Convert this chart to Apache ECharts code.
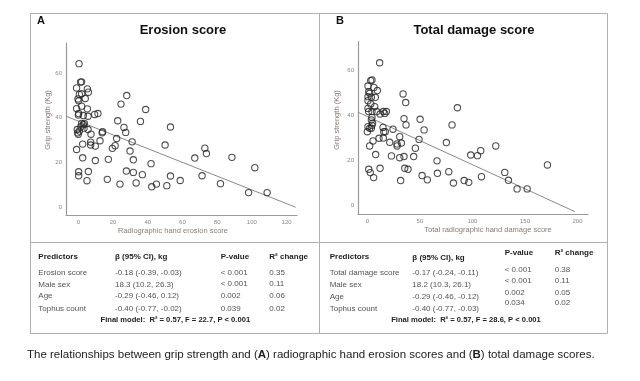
<!DOCTYPE html>
<html><head><meta charset="utf-8">
<script src="https://cdn.jsdelivr.net/npm/echarts@6/dist/echarts.min.js"></script>
<style>html,body{margin:0;padding:0;background:#fff}#c{width:640px;height:381px}</style>
</head><body><div id="c"></div>
<script>
// ---- Data ----
const erosionX = [0.4,1.3,1.9,-1.0,5.2,5.8,0.6,1.9,-0.2,4.0,0.2,1.9,5.2,-1.0,0.2,2.9,5.6,9.4,11.3,0.0,1.9,2.9,3.5,1.5,3.3,-0.6,0.6,-0.4,0.0,5.6,7.3,-1.0,2.5,7.1,7.1,9.8,2.5,9.8,0.2,0.2,5.8,5.0,13.7,12.5,14.0,
  16.7,17.3,22.7,22.1,21.2,19.6,24.6,24.0,27.9,26.3,27.3,27.7,31.0,29.8,31.7,31.7,33.3,35.8,36.9,38.8,41.9,42.3,45.0,50.0,51.0,53.1,53.1,58.7,67.1,71.3,72.9,73.8,81.9,88.5,98.1,101.7,108.8];
const erosionY = [64.1,55.9,56.0,53.3,52.9,51.4,50.4,50.7,48.4,48.6,47.6,45.2,44.0,44.1,41.9,41.0,40.7,41.5,41.9,41.2,37.5,37.0,37.5,36.0,35.4,34.8,34.1,33.3,32.7,34.8,32.7,25.9,28.3,29.2,27.9,27.4,22.2,21.0,16.0,14.2,16.1,12.0,33.3,29.8,33.8,
  12.6,21.5,38.7,30.8,27.6,26.4,46.1,10.5,49.9,35.7,33.5,16.3,29.3,25.2,21.3,15.7,11.0,38.4,14.7,43.7,19.6,9.3,10.5,27.9,9.8,35.9,14.1,12.1,22.1,14.2,26.5,24.1,10.7,22.4,6.7,17.8,6.7];
const erosionFitX = [-7.1, 125.2];
const erosionFitY = [40.7, 0.2];

const damageX = [11.7,3.2,4.4,0.6,6.3,9.5,1.3,2.2,0.6,3.8,7.6,0.6,3.2,7.0,0.6,1.3,4.4,8.9,12.1,15.2,18.1,16.5,4.4,3.8,0.6,2.2,3.8,0.0,14.9,15.6,17.1,24.4,5.4,2.2,11.1,15.2,7.9,1.3,2.8,6.0,12.1,21.3,22.9,28.3,28.3,32.4,30.8,30.8,34.9,31.7,34.0,36.5,34.9,36.8,35.6,38.7,44.1,45.7,49.2,50.2,54.0,52.1,57.1,66.3,66.7,75.2,77.5,80.6,81.9,85.7,92.1,96.5,98.4,104.8,107.9,108.6,122.2,130.8,134.3,142.5,152.1,171.4,5.0,4.4];
const damageY = [63.2,55.3,55.6,52.9,52.3,50.9,50.4,49.7,48.2,47.9,47.9,46.4,45.0,43.8,43.0,41.6,41.6,41.6,40.5,41.6,41.6,40.8,39.0,37.9,34.9,34.2,34.2,32.7,34.6,32.7,32.7,33.8,28.6,26.4,29.8,29.9,22.6,16.1,14.6,12.4,16.5,28.0,22.0,27.3,26.4,27.7,30.5,21.2,21.7,11.1,49.4,45.6,38.5,35.7,16.5,16.1,21.7,25.4,29.3,38.2,33.5,13.3,11.4,19.8,14.3,27.9,15.0,35.7,10.0,43.3,11.1,10.3,22.4,22.1,24.3,12.8,26.4,14.7,11.2,7.4,7.4,18.0,36.5,35.5];
const damageFitX = [-8.9, 197.5];
const damageFitY = [41.3, -2.65];

const erosionTicksX = [0,20,40,60,80,100,120];
const damageTicksX = [0,50,100,150,200];
const gripTicksY = [0,20,40,60];

const tableHeaders = ['Predictors', 'β (95% CI), kg', 'P-value', 'R² change'];
const predictorsA = ['Erosion score', 'Male sex', 'Age', 'Tophus count'];
const betaA = ['-0.18 (-0.39, -0.03)', '18.3 (10.2, 26.3)', '-0.29 (-0.46, 0.12)', '-0.40 (-0.77, -0.02)'];
const pA = ['< 0.001', '< 0.001', '0.002', '0.039'];
const r2A = ['0.35', '0.11', '0.06', '0.02'];
const finalA = 'Final model:  R² = 0.57, F = 22.7, P < 0.001';
const predictorsB = ['Total damage score', 'Male sex', 'Age', 'Tophus count'];
const betaB = ['-0.17 (-0.24, -0.11)', '18.2 (10.3, 26.1)', '-0.29 (-0.46, -0.12)', '-0.40 (-0.77, -0.03)'];
const pB = ['< 0.001', '< 0.001', '0.002', '0.034'];
const r2B = ['0.38', '0.11', '0.05', '0.02'];
const finalB = 'Final model:  R² = 0.57, F = 28.6, P < 0.001';

// ---- Build ----
const zip = (xs, ys) => xs.map((x, i) => [x, ys[i]]);
const FF = '"Liberation Sans", Arial, sans-serif';

function axisX(gi, min, max, ticks) {
  return { type: 'value', gridIndex: gi, min, max,
    axisLine: { show: true, onZero: false, lineStyle: { color: '#9a9a9a', width: 1.2 } },
    axisTick: { show: false }, splitLine: { show: false },
    axisLabel: { customValues: ticks, color: '#888', fontSize: 6, fontFamily: FF, margin: 4 } };
}
function axisY(gi, min, max, ticks) {
  return { type: 'value', gridIndex: gi, min, max,
    axisLine: { show: true, onZero: false, lineStyle: { color: '#9a9a9a', width: 1.2 } },
    axisTick: { show: false }, splitLine: { show: false },
    axisLabel: { customValues: ticks, color: '#888', fontSize: 6, fontFamily: FF, margin: 4 } };
}
function scatter(i, data) {
  return { type: 'scatter', xAxisIndex: i, yAxisIndex: i, data, symbol: 'circle', symbolSize: 6.3,
    itemStyle: { color: 'rgba(0,0,0,0)', borderColor: '#222', borderWidth: 1.1 }, silent: true, z: 3 };
}
function fit(i, data) {
  return { type: 'line', xAxisIndex: i, yAxisIndex: i, data, symbol: 'none',
    lineStyle: { color: '#8a8a8a', width: 1 }, silent: true, z: 2 };
}
function txt(x, y, text, o) {
  o = o || {};
  return { type: 'text', x, y, rotation: o.rot || 0, silent: true, z: 10,
    style: { text, fill: o.fill || '#333', fontSize: o.size || 8, fontWeight: o.bold ? 'bold' : 'normal',
      fontFamily: FF, align: o.align || 'left', verticalAlign: 'middle', rich: o.rich } };
}

const graphics = [];
// frame
graphics.push({ type: 'rect', shape: { x: 30.5, y: 13.5, width: 577, height: 320 }, style: { fill: 'none', stroke: '#b0b0b0', lineWidth: 1 }, silent: true });
graphics.push({ type: 'line', shape: { x1: 30, y1: 242.5, x2: 607, y2: 242.5 }, style: { stroke: '#b0b0b0', lineWidth: 1 }, silent: true });
graphics.push({ type: 'line', shape: { x1: 319.5, y1: 13, x2: 319.5, y2: 333 }, style: { stroke: '#b0b0b0', lineWidth: 1 }, silent: true });
// panel labels and titles
graphics.push(txt(37, 20.5, 'A', { bold: true, size: 11, fill: '#111' }));
graphics.push(txt(336, 20.5, 'B', { bold: true, size: 11, fill: '#111' }));
graphics.push(txt(183, 30.7, 'Erosion score', { bold: true, size: 13, fill: '#111', align: 'center' }));
graphics.push(txt(474, 30.7, 'Total damage score', { bold: true, size: 13, fill: '#111', align: 'center' }));
// axis names
graphics.push(txt(48, 120, 'Grip strength (Kg)', { size: 7.5, fill: '#8b7d77', align: 'center', rot: Math.PI / 2 }));
graphics.push(txt(336.5, 120, 'Grip strength (Kg)', { size: 7.5, fill: '#8b7d77', align: 'center', rot: Math.PI / 2 }));
graphics.push(txt(173, 230.7, 'Radiographic hand erosion score', { size: 7.5, fill: '#8b7d77', align: 'center' }));
graphics.push(txt(488, 230, 'Total radiographic hand damage score', { size: 7.5, fill: '#8b7d77', align: 'center' }));

// tables
function table(cols, headY, rowYs, pYs, preds, betas, ps, r2s, finalText, finalX) {
  for (let c = 0; c < 4; c++) graphics.push(txt(cols[c], headY[c], tableHeaders[c], { bold: true, fill: '#222' }));
  for (let i = 0; i < preds.length; i++) {
    graphics.push(txt(cols[0], rowYs[i], preds[i], { fill: '#555' }));
    graphics.push(txt(cols[1], rowYs[i], betas[i], { fill: '#555' }));
    graphics.push(txt(cols[2], pYs[i], ps[i], { fill: '#555' }));
    graphics.push(txt(cols[3], pYs[i], r2s[i], { fill: '#555' }));
  }
  graphics.push(txt(finalX, 319.7, finalText, { bold: true, fill: '#222', align: 'center', size: 7.6 }));
}
table([38.3, 115, 220.7, 269.3], [256.3, 256.3, 256.3, 256.3], [272.7, 284.5, 296, 308.3], [272.7, 284, 296, 308.3],
  predictorsA, betaA, pA, r2A, finalA, 175.3);
table([329.7, 412.3, 504.7, 554.7], [256.3, 257.3, 253, 253], [272.7, 285, 297, 308.3], [270, 281, 292.5, 303],
  predictorsB, betaB, pB, r2B, finalB, 466);

// caption
graphics.push(txt(27, 355, 'The relationships between grip strength and ({b|A}) radiographic hand erosion scores and ({b|B}) total damage scores.',
  { size: 11.5, fill: '#222', rich: { b: { fontWeight: 'bold', fontSize: 11.5, fontFamily: FF, fill: '#222' } } }));

const chart = echarts.init(document.getElementById('c'), null, { renderer: 'canvas' });
chart.setOption({
  animation: false,
  backgroundColor: '#fff',
  grid: [
    { left: 66, top: 43, width: 231, height: 172 },
    { left: 358, top: 41.7, width: 230, height: 172.3 }
  ],
  xAxis: [axisX(0, -7.1, 126, erosionTicksX), axisX(1, -8.9, 210, damageTicksX)],
  yAxis: [axisY(0, -3.26, 73.3, gripTicksY), axisY(1, -3.7, 72.5, gripTicksY)],
  series: [
    scatter(0, zip(erosionX, erosionY)),
    fit(0, zip(erosionFitX, erosionFitY)),
    scatter(1, zip(damageX, damageY)),
    fit(1, zip(damageFitX, damageFitY))
  ],
  graphic: graphics
});
</script></body></html>
